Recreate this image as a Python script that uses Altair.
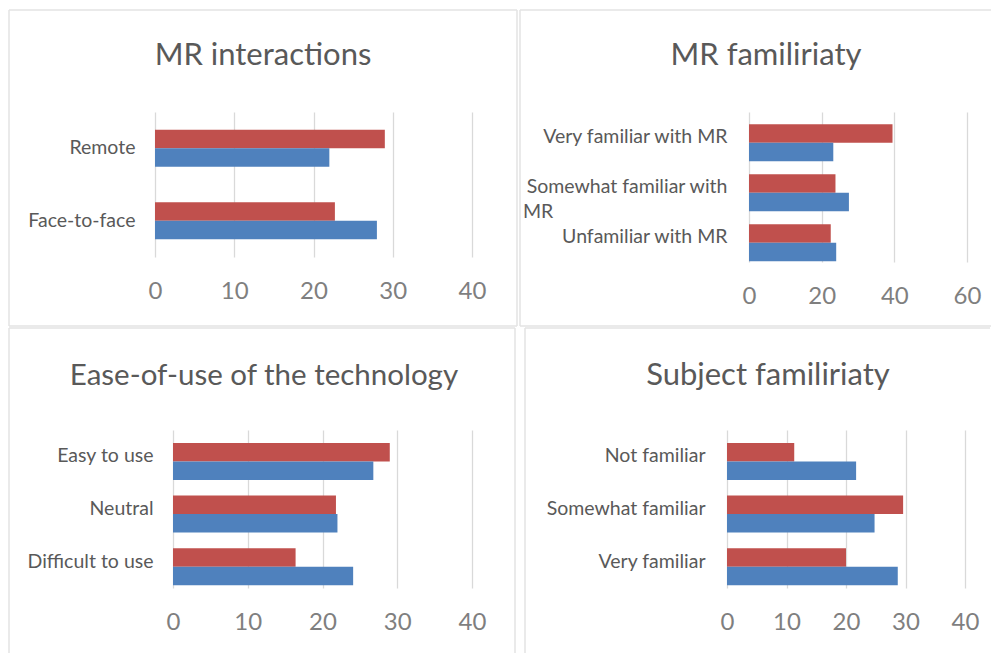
import altair as alt
import pandas as pd

# ---------------- data ----------------
series_names = ["Series 1", "Series 2"]          # blue, red

interaction_cats = ["Remote", "Face-to-face"]
interaction_red = [29.0, 22.7]
interaction_blue = [22.0, 28.0]

mr_cats = ["Very familiar with MR", "Somewhat familiar with MR", "Unfamiliar with MR"]
mr_red = [39.5, 23.8, 22.5]
mr_blue = [23.2, 27.5, 24.0]

ease_cats = ["Easy to use", "Neutral", "Difficult to use"]
ease_red = [29.0, 21.8, 16.4]
ease_blue = [26.8, 22.0, 24.1]

subj_cats = ["Not familiar", "Somewhat familiar", "Very familiar"]
subj_red = [11.3, 29.6, 20.0]
subj_blue = [21.7, 24.8, 28.7]

titles = ["MR interactions", "MR familiriaty", "Ease-of-use of the technology", "Subject familiriaty"]

# ---------------- style ----------------
FONT = "Lato"
RED = "#C0504D"
BLUE = "#4F81BD"
GRID = "#D9D9D9"
BORDER = "#E3E3E3"
TITLE_C = "#595959"
LABEL_C = "#595959"
TICK_C = "#7F7F7F"


def make_df(cats, red, blue):
    rows = []
    for c, r, b in zip(cats, red, blue):
        rows.append({"cat": c, "series": series_names[1], "value": r})
        rows.append({"cat": c, "series": series_names[0], "value": b})
    return pd.DataFrame(rows)


def panel(cats, red, blue, title, xmax, xstep, gx, gy, shift, W, H, L, R, T, B,
          tcx, tby, lab_right, right_edge=True, title_size=31,
          label_expr=None, extra=None):
    """gx, gy: page position of the cell origin; shift: x offset of the value axis."""
    ykw = dict(title=None, domain=False, ticks=False, grid=False,
               labelPadding=gx - lab_right, labelFontSize=19.5, labelColor=LABEL_C,
               labelFont=FONT, labelLimit=400)
    if label_expr:
        ykw["labelExpr"] = label_expr
    yenc = alt.Y("cat:N", sort=cats,
                 scale=alt.Scale(paddingInner=0.49, paddingOuter=0.245),
                 axis=alt.Axis(**ykw))
    bars = alt.Chart(make_df(cats, red, blue)).mark_bar().encode(
        x=alt.X("value:Q",
                scale=alt.Scale(domain=[0, xmax], nice=False, range=[shift, shift + W]),
                axis=alt.Axis(values=list(range(0, xmax + 1, xstep)), grid=True,
                              gridColor=GRID, gridWidth=1.3, domain=False, ticks=False,
                              labelFontSize=24, labelColor=TICK_C, labelFont=FONT,
                              labelPadding=22, labelFlush=False, labelOverlap=False,
                              title=None)),
        y=yenc,
        yOffset=alt.YOffset("series:N", sort=[series_names[1], series_names[0]]),
        color=alt.Color("series:N",
                        scale=alt.Scale(domain=series_names, range=[BLUE, RED]),
                        legend=None),
    )
    one = alt.Data(values=[{"t": title}])
    layers = []
    # panel frame (decoration)
    layers.append(alt.Chart(one).mark_rule(color=BORDER, strokeWidth=1.5).encode(
        x=alt.value(L - gx), y=alt.value(T - gy), y2=alt.value(B - gy)))
    if right_edge:
        layers.append(alt.Chart(one).mark_rule(color=BORDER, strokeWidth=1.5).encode(
            x=alt.value(R - gx), y=alt.value(T - gy), y2=alt.value(B - gy)))
    layers.append(alt.Chart(one).mark_rule(color=BORDER, strokeWidth=1.5).encode(
        x=alt.value(L - gx), x2=alt.value(R - gx), y=alt.value(T - gy)))
    if B < 640:
        layers.append(alt.Chart(one).mark_rule(color=BORDER, strokeWidth=1.5).encode(
            x=alt.value(L - gx), x2=alt.value(R - gx), y=alt.value(B - gy)))
    layers.append(alt.Chart(one).mark_text(
        font=FONT, fontSize=title_size, color=TITLE_C, align="center", baseline="alphabetic"
    ).encode(x=alt.value(tcx - gx), y=alt.value(tby - gy), text="t:N"))
    if extra is not None:
        layers.append(extra(yenc, gx))
    layers.append(bars)
    return alt.layer(*layers).properties(width=W + shift, height=H)


def mr_extra(yenc, gx):
    d = alt.Data(values=[{"cat": mr_cats[1], "t": "MR"}])
    return alt.Chart(d).mark_text(
        font=FONT, fontSize=19.5, color=LABEL_C, align="left", baseline="middle", dy=25
    ).encode(x=alt.value(522 - gx), y=yenc, text="t:N")


p1 = panel(interaction_cats, interaction_red, interaction_blue, titles[0], 40, 10,
           gx=155, gy=112, shift=0, W=317, H=145, L=9, R=517, T=10, B=326,
           tcx=263, tby=65, lab_right=135)
p2 = panel(mr_cats, mr_red, mr_blue, titles[1], 60, 20,
           gx=748, gy=112, shift=0, W=218, H=150, L=519, R=990, T=10, B=326,
           tcx=765, tby=65, lab_right=726, right_edge=False,
           label_expr="datum.label == 'Somewhat familiar with MR' ? 'Somewhat familiar with' : datum.label",
           extra=mr_extra)
p3 = panel(ease_cats, ease_red, ease_blue, titles[2], 40, 10,
           gx=155, gy=430, shift=18, W=299, H=158, L=9, R=515, T=328, B=700,
           tcx=264, tby=385, lab_right=153, title_size=29.5)
p4 = panel(subj_cats, subj_red, subj_blue, titles[3], 40, 10,
           gx=727, gy=430, shift=0, W=238, H=158, L=525, R=990, T=328, B=700,
           tcx=768, tby=385, lab_right=705, right_edge=False)

row1 = alt.hconcat(p1, p2, spacing=1)
row2 = alt.hconcat(p3, p4, spacing=8)
chart = alt.vconcat(row1, row2, spacing=0).properties(
    padding={"left": 0, "top": 1, "right": 0, "bottom": 0}
).configure_view(strokeWidth=0)

chart.save("out.html", embed_options={"renderer": "svg", "actions": False})
